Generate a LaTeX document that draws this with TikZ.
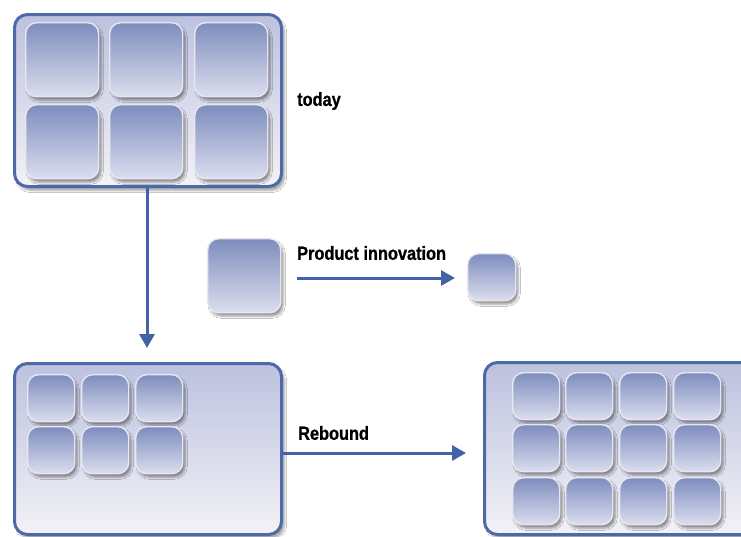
\documentclass[tikz,border=0pt]{standalone}
\usepackage{fontspec}
\setmainfont{Liberation Sans}[FakeStretch=0.86]
\newfontfamily\labelfont{Liberation Sans Bold}[FakeStretch=0.86,FakeBold=0.8]
\usetikzlibrary{arrows.meta,shadows.blur}

\definecolor{frameblue}{HTML}{4C69A8}
\definecolor{arrowblue}{HTML}{4462A6}
\definecolor{paneltop}{HTML}{BCC1DE}
\definecolor{panelbot}{HTML}{F3F2F7}
\definecolor{tiletop}{HTML}{7D8DBE}
\definecolor{tilebot}{HTML}{DCDEEE}
\definecolor{tileedge}{HTML}{E6E7F0}

\tikzset{
  panel/.style={anchor=north west, inner sep=0pt, rounded corners=13pt,
    draw=frameblue, line width=3pt, top color=paneltop, bottom color=panelbot,
    blur shadow={shadow xshift=3pt, shadow yshift=-4pt, shadow opacity=35, shadow blur steps=6}},
  tile/.style={anchor=north west, inner sep=0pt, rounded corners=11pt,
    draw=tileedge, line width=1.4pt, top color=tiletop, bottom color=tilebot,
    blur shadow={shadow xshift=2.5pt, shadow yshift=-3.5pt, shadow opacity=40, shadow blur steps=5}},
  arr/.style={draw=arrowblue, line width=3pt, -{Triangle[length=14pt,width=15pt]}},
  lbl/.style={anchor=west, inner sep=0pt, font=\labelfont\fontsize{19}{21}\selectfont}
}

\begin{document}
\begin{tikzpicture}[x=1pt,y=-1pt]
\useasboundingbox (0,0) rectangle (741,536);
\clip (0,0) rectangle (741,536);
\fill[white] (0,0) rectangle (741,536);

% top panel with 2x3 tiles
\node[panel, minimum width=267pt, minimum height=172pt] (top) at (13,13) {};
\foreach \c/\x in {1/25,2/109,3/194}{
  \foreach \r/\y in {1/22,2/104}{
    \node[tile, minimum width=73pt, minimum height=74pt] (t\r\c) at (\x,\y) {};
  }
}
\node[lbl] (today) at (297,101) {today};

% product innovation: large tile becomes small tile
\node[tile, minimum width=73pt, minimum height=74pt] (pbig) at (207,238) {};
\node[tile, minimum width=48pt, minimum height=47pt] (psmall) at (467,253) {};
\node[lbl] (plabel) at (297,253) {Product innovation};

% bottom left panel with 2x3 small tiles
\node[panel, minimum width=267pt, minimum height=171pt] (botL) at (13,362) {};
\foreach \c/\x in {1/27,2/81,3/135}{
  \foreach \r/\y in {1/374,2/426}{
    \node[tile, minimum width=47pt, minimum height=47pt] (l\r\c) at (\x,\y) {};
  }
}

% bottom right panel with 3x4 small tiles
\node[panel, minimum width=280pt, minimum height=172pt] (botR) at (483,361) {};
\foreach \c/\x in {1/512,2/565,3/619,4/673}{
  \foreach \r/\y in {1/372,2/424,3/477}{
    \node[tile, minimum width=47pt, minimum height=47pt] (r\r\c) at (\x,\y) {};
  }
}
\node[lbl] (rlabel) at (298,433) {Rebound};

% connectors
\coordinate (vend) at (147,348);
\draw[arr] (top.south -| vend) -- (vend);
\draw[arr] ([xshift=16pt]pbig.east |- 0,278) -- ([xshift=-12pt]psmall.west |- 0,278);
\coordinate (rend) at (466,453);
\draw[arr] (botL.east |- rend) -- (rend);
\end{tikzpicture}
\end{document}
